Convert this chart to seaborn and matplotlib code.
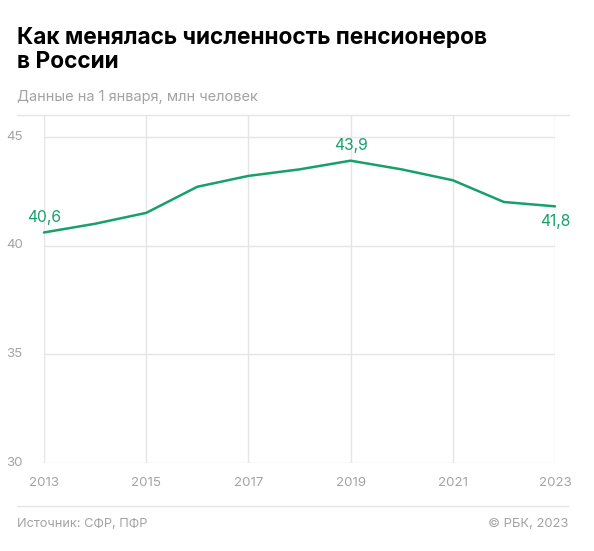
import numpy as np
import pandas as pd
import matplotlib
matplotlib.use('Agg')
import matplotlib.pyplot as plt
import seaborn as sns
from matplotlib.lines import Line2D

# data, 1 January each year, mln people
years = [2013, 2014, 2015, 2016, 2017, 2018, 2019, 2020, 2021, 2022, 2023]
pensioners = [40.6, 41.0, 41.5, 42.7, 43.2, 43.5, 43.9, 43.5, 43.0, 42.0, 41.8]
xticks = [2013, 2015, 2017, 2019, 2021, 2023]
yticks = [30, 35, 40, 45]
labelled = {2013: ('40,6', 0, 11), 2019: ('43,9', 0, 11), 2023: ('41,8', 0, -11)}

title = 'Как менялась численность пенсионеров\nв России'
subtitle = 'Данные на 1 января, млн человек'
source = 'Источник: СФР, ПФР'
copyright_txt = '© РБК, 2023'

green = '#17a06c'
grey_txt = '#a3a3a3'
grid_col = '#e5e5e5'

sns.set_theme(style='white')
plt.rcParams['font.family'] = ['Inter', 'DejaVu Sans']

df = pd.DataFrame({'year': years, 'value': pensioners})

fig = plt.figure(figsize=(5.94, 5.51), dpi=100)
ax = fig.add_axes([44/594, 1 - 463/551, (555-44)/594, (463-115)/551])

sns.lineplot(data=df, x='year', y='value', ax=ax, color=green, linewidth=1.8, clip_on=False)

ax.set_xlim(2013, 2023)
ax.set_ylim(30, 46)
ax.set_xticks(xticks)
ax.set_yticks(yticks)
ax.set_xticklabels([str(x) for x in xticks])
ax.set_yticklabels([str(y) for y in yticks])
ax.set_xlabel('')
ax.set_ylabel('')
for s in ax.spines.values():
    s.set_visible(False)
ax.grid(True, color=grid_col, linewidth=1)
ax.set_axisbelow(True)
ax.tick_params(axis='both', length=0, labelsize=9.6, labelcolor=grey_txt)
ax.tick_params(axis='x', pad=10)
for lbl in ax.get_yticklabels():
    lbl.set_horizontalalignment('left')
    lbl.set_verticalalignment('center')
ax.yaxis.set_tick_params(pad=27)

# value labels
for yr, (txt, dx, dy) in labelled.items():
    val = pensioners[years.index(yr)]
    ax.annotate(txt, (yr, val), xytext=(dx, dy), textcoords='offset points',
                ha='center', va='center', color=green, fontsize=11.3, annotation_clip=False)

# top and bottom rules
fig.add_artist(Line2D([17/594, 569/594], [1 - 115/551, 1 - 115/551], color=grid_col, lw=1))
fig.add_artist(Line2D([17/594, 568/594], [1 - 506/551, 1 - 506/551], color=grid_col, lw=1))

fig.text(17/594, 1 - 27/551, title, ha='left', va='top', fontsize=16.3,
         fontweight='bold', color='black', linespacing=1.1)
fig.text(17/594, 1 - 97/551, subtitle, ha='left', va='center', fontsize=10.5, color=grey_txt)
fig.text(17/594, 1 - 524/551, source, ha='left', va='center', fontsize=9.2, color=grey_txt)
fig.text(568/594, 1 - 524/551, copyright_txt, ha='right', va='center', fontsize=9.4, color=grey_txt)

fig.savefig('out.png', dpi=100, facecolor='white')
